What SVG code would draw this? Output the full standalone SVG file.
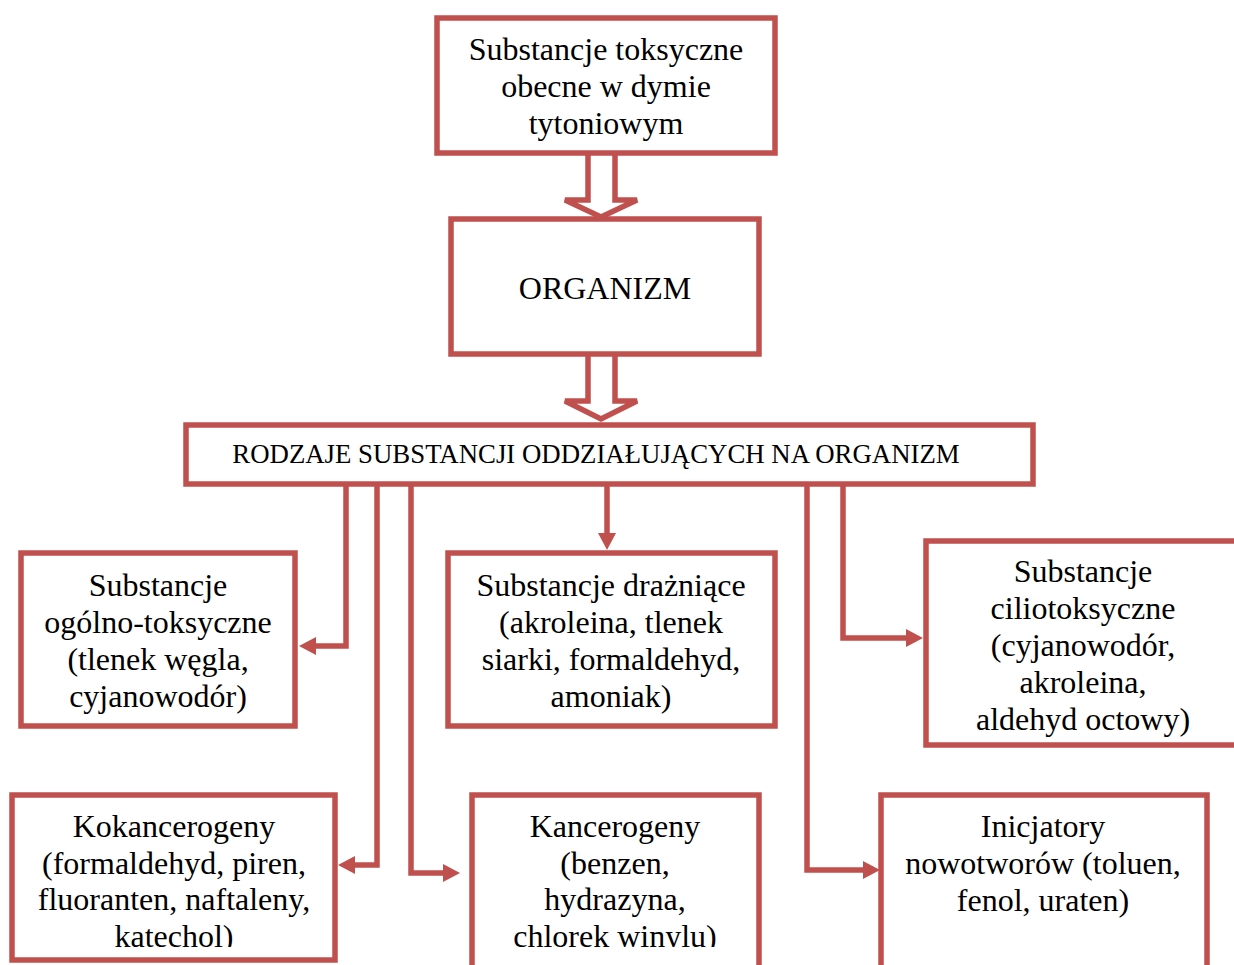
<svg xmlns="http://www.w3.org/2000/svg" width="1234" height="965" viewBox="0 0 1234 965">
<defs>
<style>
.box{fill:#fff;stroke:#C0504D;stroke-width:5.5}
.t{font-family:"Liberation Serif","Times New Roman",serif;font-size:32px;fill:#000;text-anchor:middle}
.h{font-family:"Liberation Serif","Times New Roman",serif;font-size:26.8px;fill:#000;text-anchor:middle}
.c{fill:none;stroke:#C0504D;stroke-width:5.5;stroke-linejoin:miter}
.blk{fill:#fff;stroke:#C0504D;stroke-width:5.5;stroke-linejoin:miter}
</style>
<clipPath id="cut"><rect x="0" y="0" width="1234" height="947"/></clipPath>
<marker id="ah" markerUnits="userSpaceOnUse" markerWidth="18" markerHeight="18" refX="0" refY="9" orient="auto" viewBox="0 0 18 18">
<path d="M0,0 L17,9 L0,18 z" fill="#C0504D"/>
</marker>
</defs>
<rect width="1234" height="965" fill="#fff"/>
<g id="connectors">
<polyline class="blk" points="588,154 588,200 565,200 601,217 637,200 615,200 615,154"/>
<polyline class="blk" points="588,355 588,401 565,401 601,419 637,401 615,401 615,355"/>
<polyline class="c" marker-end="url(#ah)" points="346,484 346,646 316,646"/>
<polyline class="c" marker-end="url(#ah)" points="377,484 377,865 355,865"/>
<polyline class="c" marker-end="url(#ah)" points="411,484 411,873 443,873"/>
<polyline class="c" marker-end="url(#ah)" points="607,484 607,533"/>
<polyline class="c" marker-end="url(#ah)" points="807,484 807,870 863,870"/>
<polyline class="c" marker-end="url(#ah)" points="843,484 843,638 906,638"/>
</g>
<g id="n-source">
<rect class="box" x="437" y="18" width="338" height="135"/>
<text class="t" x="606" y="60">Substancje toksyczne</text>
<text class="t" x="606" y="97">obecne w dymie</text>
<text class="t" x="606" y="134">tytoniowym</text>
</g>
<g id="n-organizm">
<rect class="box" x="451" y="219" width="308" height="135"/>
<text class="t" x="605" y="299">ORGANIZM</text>
</g>
<g id="n-rodzaje">
<rect class="box" x="186" y="425" width="847" height="59"/>
<text class="h" x="596" y="463">RODZAJE SUBSTANCJI ODDZIAŁUJĄCYCH NA ORGANIZM</text>
</g>
<g id="n-ogolno">
<rect class="box" x="21" y="553" width="274" height="173"/>
<text class="t" x="158" y="596">Substancje</text>
<text class="t" x="158" y="633">ogólno-toksyczne</text>
<text class="t" x="158" y="670">(tlenek węgla,</text>
<text class="t" x="158" y="707">cyjanowodór)</text>
</g>
<g id="n-drazniace">
<rect class="box" x="448" y="553" width="327" height="173"/>
<text class="t" x="611" y="596">Substancje drażniące</text>
<text class="t" x="611" y="633">(akroleina, tlenek</text>
<text class="t" x="611" y="670">siarki, formaldehyd,</text>
<text class="t" x="611" y="707">amoniak)</text>
</g>
<g id="n-cilio">
<rect class="box" x="926" y="541" width="320" height="204"/>
<text class="t" x="1083" y="582">Substancje</text>
<text class="t" x="1083" y="619">ciliotoksyczne</text>
<text class="t" x="1083" y="656">(cyjanowodór,</text>
<text class="t" x="1083" y="693">akroleina,</text>
<text class="t" x="1083" y="730">aldehyd octowy)</text>
</g>
<g id="n-kokancerogeny">
<rect class="box" x="12" y="795" width="323" height="165"/>
<text class="t" x="174" y="837">Kokancerogeny</text>
<text class="t" x="174" y="874">(formaldehyd, piren,</text>
<text class="t" x="174" y="910">fluoranten, naftaleny,</text>
<text class="t" x="174" y="947" clip-path="url(#cut)">katechol)</text>
</g>
<g id="n-kancerogeny">
<rect class="box" x="472" y="795" width="287" height="190"/>
<text class="t" x="615" y="837">Kancerogeny</text>
<text class="t" x="615" y="874">(benzen,</text>
<text class="t" x="615" y="910">hydrazyna,</text>
<text class="t" x="615" y="947" clip-path="url(#cut)">chlorek winylu)</text>
</g>
<g id="n-inicjatory">
<rect class="box" x="881" y="795" width="326" height="190"/>
<text class="t" x="1043" y="837">Inicjatory</text>
<text class="t" x="1043" y="874">nowotworów (toluen,</text>
<text class="t" x="1043" y="911">fenol, uraten)</text>
</g>
</svg>
